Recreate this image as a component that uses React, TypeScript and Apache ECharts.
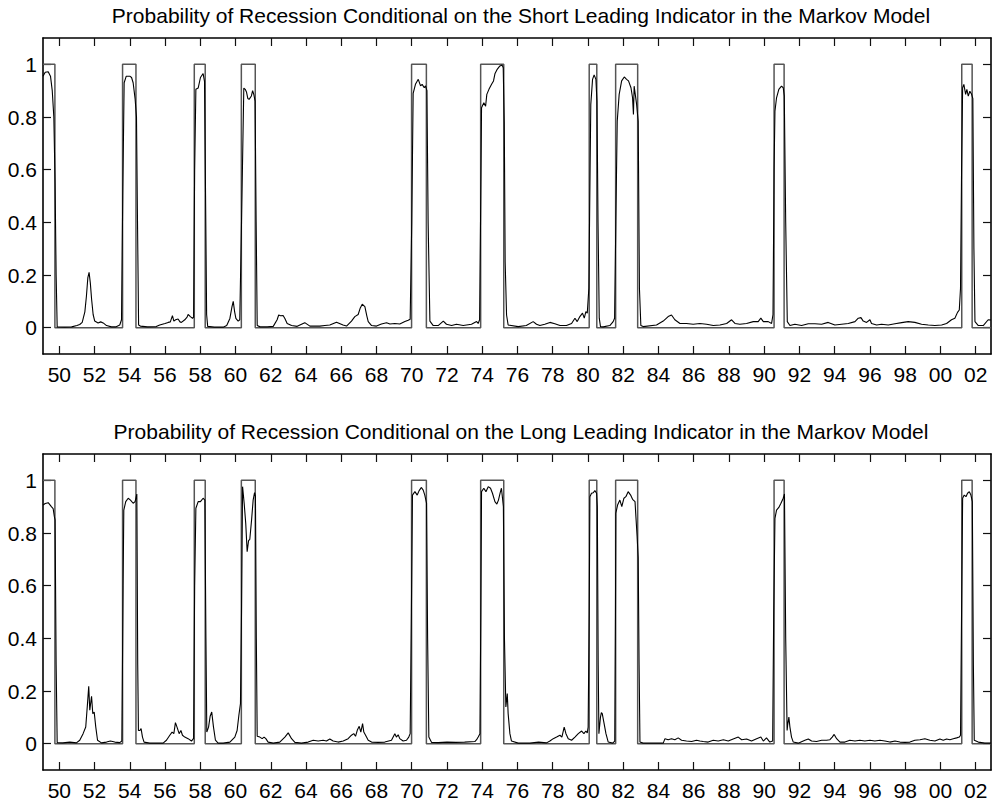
import React, { useEffect, useRef } from "react";
import * as echarts from "echarts";

const X_MIN = 1949.075;
const X_MAX = 2002.87;
const Y_MIN = -0.1;
const Y_MAX = 1.1;

const tickYears = [1950, 1952, 1954, 1956, 1958, 1960, 1962, 1964, 1966, 1968, 1970, 1972, 1974, 1976, 1978, 1980, 1982, 1984, 1986, 1988, 1990, 1992, 1994, 1996, 1998, 2000, 2002];
const yTicks = [0, 0.2, 0.4, 0.6, 0.8, 1];

const panelTitles = [
  "Probability of Recession Conditional on the Short Leading Indicator in the Markov Model",
  "Probability of Recession Conditional on the Long Leading Indicator in the Markov Model",
];

const recessionStarts = [1949.075, 1953.59, 1957.66, 1960.33, 1969.99, 1973.91, 1980.07, 1981.57, 1990.56, 2001.21];
const recessionEnds = [1949.75, 1954.35, 1958.28, 1961.12, 1970.83, 1975.22, 1980.5, 1982.82, 1991.13, 2001.8];

const shortProb: [number, number][] = [
  [1949.075, 0.955], [1949.2, 0.97], [1949.37, 0.972], [1949.5, 0.955], [1949.6, 0.9], [1949.69, 0.8], [1949.76, 0.55], [1949.82, 0.2], [1949.88, 0.003],
  [1950.3, 0.002], [1950.7, 0.003], [1951.0, 0.008], [1951.16, 0.012], [1951.3, 0.02], [1951.45, 0.06], [1951.54, 0.12], [1951.62, 0.19], [1951.69, 0.21],
  [1951.76, 0.17], [1951.83, 0.11], [1951.92, 0.05], [1952.01, 0.025], [1952.2, 0.018], [1952.35, 0.022], [1952.49, 0.018], [1952.68, 0.008], [1952.96, 0.003],
  [1953.2, 0.003], [1953.43, 0.01], [1953.53, 0.03], [1953.6, 0.5], [1953.68, 0.93], [1953.8, 0.955], [1954.0, 0.955], [1954.1, 0.95], [1954.19, 0.93],
  [1954.3, 0.87], [1954.38, 0.8], [1954.43, 0.45], [1954.5, 0.01], [1954.6, 0.006], [1955.0, 0.003], [1955.5, 0.004], [1955.7, 0.01], [1956.0, 0.016],
  [1956.18, 0.02], [1956.3, 0.022], [1956.42, 0.046], [1956.5, 0.025], [1956.6, 0.03], [1956.74, 0.033], [1956.85, 0.022], [1956.93, 0.02], [1957.12, 0.03],
  [1957.25, 0.04], [1957.31, 0.05], [1957.44, 0.042], [1957.56, 0.035], [1957.62, 0.04], [1957.68, 0.6], [1957.75, 0.905], [1957.88, 0.91], [1958.01, 0.95],
  [1958.16, 0.965], [1958.24, 0.935], [1958.3, 0.5], [1958.36, 0.05], [1958.42, 0.005], [1958.8, 0.002], [1959.3, 0.002], [1959.5, 0.008], [1959.68, 0.035],
  [1959.8, 0.08], [1959.87, 0.1], [1959.95, 0.06], [1960.02, 0.035], [1960.15, 0.025], [1960.24, 0.03], [1960.34, 0.4], [1960.47, 0.91], [1960.55, 0.905],
  [1960.62, 0.895], [1960.7, 0.87], [1960.77, 0.867], [1960.9, 0.88], [1960.97, 0.9], [1961.04, 0.885], [1961.11, 0.86], [1961.17, 0.4], [1961.23, 0.008],
  [1961.4, 0.003], [1961.8, 0.003], [1962.14, 0.005], [1962.36, 0.03], [1962.45, 0.048], [1962.55, 0.045], [1962.7, 0.046], [1962.8, 0.035], [1962.93, 0.016],
  [1963.18, 0.008], [1963.5, 0.005], [1963.93, 0.019], [1964.22, 0.006], [1964.78, 0.006], [1965.07, 0.008], [1965.35, 0.01], [1965.73, 0.021], [1966.1, 0.01],
  [1966.3, 0.006], [1966.58, 0.025], [1966.77, 0.042], [1966.96, 0.05], [1967.08, 0.075], [1967.19, 0.089], [1967.34, 0.08], [1967.45, 0.045], [1967.53, 0.023],
  [1967.72, 0.008], [1968.0, 0.006], [1968.28, 0.014], [1968.57, 0.019], [1968.76, 0.014], [1969.04, 0.016], [1969.32, 0.014], [1969.61, 0.023], [1969.8, 0.028],
  [1969.91, 0.032], [1970.0, 0.4], [1970.08, 0.89], [1970.21, 0.924], [1970.37, 0.943], [1970.5, 0.918], [1970.59, 0.924], [1970.71, 0.911], [1970.78, 0.918],
  [1970.86, 0.9], [1970.93, 0.4], [1971.03, 0.025], [1971.22, 0.008], [1971.5, 0.008], [1971.79, 0.025], [1971.97, 0.013], [1972.26, 0.008], [1972.54, 0.013],
  [1972.92, 0.008], [1973.39, 0.013], [1973.68, 0.023], [1973.77, 0.016], [1973.85, 0.03], [1973.93, 0.6], [1973.96, 0.835], [1974.09, 0.854], [1974.19, 0.841],
  [1974.26, 0.886], [1974.38, 0.905], [1974.53, 0.924], [1974.64, 0.937], [1974.72, 0.964], [1974.85, 0.981], [1975.0, 0.994], [1975.13, 0.997], [1975.19, 0.987],
  [1975.25, 0.78], [1975.3, 0.25], [1975.38, 0.048], [1975.47, 0.01], [1976.04, 0.004], [1976.5, 0.008], [1976.89, 0.023], [1977.08, 0.013], [1977.27, 0.008],
  [1977.55, 0.013], [1977.84, 0.02], [1978.12, 0.015], [1978.41, 0.008], [1978.78, 0.008], [1979.07, 0.016], [1979.26, 0.036], [1979.39, 0.023], [1979.54, 0.042],
  [1979.69, 0.055], [1979.79, 0.036], [1979.88, 0.061], [1979.96, 0.055], [1980.05, 0.15], [1980.12, 0.6], [1980.16, 0.848], [1980.26, 0.943], [1980.35, 0.96],
  [1980.45, 0.943], [1980.51, 0.86], [1980.57, 0.4], [1980.64, 0.036], [1980.71, 0.004], [1980.86, 0.003], [1981.24, 0.008], [1981.43, 0.023], [1981.51, 0.036],
  [1981.58, 0.4], [1981.66, 0.784], [1981.77, 0.886], [1981.91, 0.937], [1982.06, 0.952], [1982.19, 0.943], [1982.3, 0.937], [1982.44, 0.911], [1982.53, 0.873],
  [1982.58, 0.81], [1982.62, 0.917], [1982.66, 0.917], [1982.76, 0.848], [1982.85, 0.784], [1982.92, 0.15], [1983.0, 0.008], [1983.13, 0.004], [1983.89, 0.01],
  [1984.27, 0.025], [1984.55, 0.042], [1984.74, 0.048], [1984.93, 0.03], [1985.22, 0.016], [1985.59, 0.016], [1985.97, 0.013], [1986.35, 0.016], [1986.73, 0.013],
  [1987.11, 0.008], [1987.49, 0.01], [1987.87, 0.016], [1988.15, 0.03], [1988.34, 0.016], [1988.62, 0.013], [1989.0, 0.016], [1989.38, 0.023], [1989.66, 0.023],
  [1989.81, 0.036], [1989.95, 0.023], [1990.23, 0.023], [1990.42, 0.016], [1990.5, 0.05], [1990.56, 0.6], [1990.61, 0.822], [1990.7, 0.873], [1990.83, 0.905],
  [1990.98, 0.917], [1991.08, 0.911], [1991.14, 0.88], [1991.22, 0.4], [1991.31, 0.023], [1991.46, 0.008], [1991.74, 0.013], [1992.12, 0.008], [1992.5, 0.015],
  [1992.88, 0.015], [1993.26, 0.013], [1993.63, 0.02], [1994.01, 0.01], [1994.39, 0.013], [1994.77, 0.016], [1995.15, 0.023], [1995.34, 0.036], [1995.49, 0.038],
  [1995.62, 0.025], [1995.81, 0.02], [1996.0, 0.03], [1996.09, 0.016], [1996.38, 0.01], [1996.66, 0.013], [1997.04, 0.01], [1997.42, 0.015], [1997.8, 0.019],
  [1998.17, 0.023], [1998.55, 0.02], [1998.93, 0.013], [1999.31, 0.01], [1999.69, 0.008], [2000.07, 0.01], [2000.35, 0.016], [2000.63, 0.03], [2000.82, 0.036],
  [2000.97, 0.058], [2001.07, 0.067], [2001.14, 0.15], [2001.2, 0.6], [2001.26, 0.911], [2001.33, 0.924], [2001.43, 0.886], [2001.5, 0.905], [2001.58, 0.879],
  [2001.67, 0.898], [2001.77, 0.886], [2001.84, 0.87], [2001.9, 0.3], [2001.96, 0.023], [2002.15, 0.008], [2002.43, 0.008], [2002.71, 0.03], [2002.87, 0.029],
];

const longProb: [number, number][] = [
  [1949.075, 0.906], [1949.2, 0.912], [1949.37, 0.915], [1949.55, 0.9], [1949.65, 0.893], [1949.72, 0.862], [1949.76, 0.85], [1949.82, 0.3], [1949.88, 0.004],
  [1950.2, 0.003], [1950.6, 0.006], [1950.97, 0.003], [1951.16, 0.013], [1951.35, 0.038], [1951.5, 0.063], [1951.6, 0.152], [1951.67, 0.218], [1951.73, 0.127],
  [1951.83, 0.18], [1951.9, 0.114], [1951.98, 0.12], [1952.07, 0.063], [1952.17, 0.013], [1952.39, 0.003], [1952.68, 0.006], [1952.9, 0.01], [1953.15, 0.006],
  [1953.43, 0.004], [1953.55, 0.01], [1953.62, 0.6], [1953.66, 0.887], [1953.77, 0.919], [1953.91, 0.932], [1954.04, 0.925], [1954.19, 0.913], [1954.3, 0.919],
  [1954.4, 0.948], [1954.45, 0.3], [1954.49, 0.05], [1954.57, 0.05], [1954.64, 0.057], [1954.72, 0.025], [1954.81, 0.006], [1955.13, 0.002], [1955.89, 0.002],
  [1956.08, 0.013], [1956.27, 0.032], [1956.4, 0.044], [1956.5, 0.038], [1956.59, 0.08], [1956.69, 0.061], [1956.8, 0.038], [1956.9, 0.05], [1956.99, 0.032],
  [1957.12, 0.025], [1957.31, 0.019], [1957.5, 0.01], [1957.62, 0.02], [1957.68, 0.6], [1957.75, 0.894], [1957.88, 0.919], [1958.01, 0.919], [1958.16, 0.932],
  [1958.26, 0.925], [1958.32, 0.4], [1958.37, 0.044], [1958.47, 0.063], [1958.56, 0.104], [1958.65, 0.12], [1958.75, 0.063], [1958.86, 0.013], [1959.01, 0.002],
  [1959.3, 0.002], [1959.68, 0.006], [1959.96, 0.025], [1960.09, 0.05], [1960.19, 0.108], [1960.28, 0.152], [1960.34, 0.5], [1960.4, 0.976], [1960.49, 0.913],
  [1960.58, 0.836], [1960.66, 0.729], [1960.74, 0.771], [1960.81, 0.776], [1960.91, 0.849], [1961.0, 0.925], [1961.08, 0.953], [1961.13, 0.94], [1961.18, 0.4],
  [1961.23, 0.028], [1961.38, 0.025], [1961.51, 0.019], [1961.62, 0.025], [1961.72, 0.019], [1961.85, 0.006], [1962.14, 0.002], [1962.51, 0.006], [1962.8, 0.025],
  [1962.99, 0.041], [1963.18, 0.019], [1963.37, 0.005], [1963.74, 0.002], [1964.12, 0.006], [1964.41, 0.013], [1964.69, 0.01], [1964.97, 0.013], [1965.16, 0.01],
  [1965.35, 0.018], [1965.54, 0.01], [1965.82, 0.006], [1966.11, 0.01], [1966.39, 0.019], [1966.58, 0.032], [1966.71, 0.038], [1966.81, 0.028], [1966.92, 0.053],
  [1967.02, 0.066], [1967.11, 0.044], [1967.21, 0.076], [1967.28, 0.044], [1967.38, 0.032], [1967.53, 0.013], [1967.72, 0.006], [1968.1, 0.005], [1968.47, 0.006],
  [1968.85, 0.013], [1969.04, 0.038], [1969.13, 0.025], [1969.23, 0.034], [1969.32, 0.019], [1969.51, 0.01], [1969.7, 0.013], [1969.83, 0.025], [1969.91, 0.038],
  [1969.98, 0.5], [1970.04, 0.944], [1970.18, 0.957], [1970.31, 0.944], [1970.42, 0.961], [1970.55, 0.973], [1970.65, 0.963], [1970.74, 0.944], [1970.84, 0.913],
  [1970.9, 0.4], [1970.97, 0.025], [1971.12, 0.005], [1971.5, 0.004], [1972.0, 0.006], [1972.5, 0.005], [1973.0, 0.006], [1973.58, 0.008], [1973.68, 0.015],
  [1973.77, 0.025], [1973.87, 0.038], [1973.92, 0.5], [1973.96, 0.957], [1974.09, 0.97], [1974.21, 0.957], [1974.34, 0.976], [1974.47, 0.97], [1974.58, 0.951],
  [1974.72, 0.919], [1974.83, 0.91], [1974.92, 0.925], [1975.02, 0.953], [1975.09, 0.97], [1975.2, 0.9], [1975.26, 0.4], [1975.34, 0.139], [1975.42, 0.19],
  [1975.47, 0.114], [1975.57, 0.038], [1975.66, 0.01], [1976.04, 0.002], [1976.7, 0.002], [1977.2, 0.006], [1977.65, 0.003], [1977.84, 0.01], [1978.03, 0.019],
  [1978.22, 0.025], [1978.41, 0.032], [1978.52, 0.025], [1978.65, 0.063], [1978.75, 0.038], [1978.88, 0.019], [1979.07, 0.013], [1979.26, 0.025], [1979.45, 0.038],
  [1979.64, 0.048], [1979.77, 0.038], [1979.88, 0.048], [1979.96, 0.041], [1980.01, 0.063], [1980.07, 0.5], [1980.11, 0.938], [1980.2, 0.951], [1980.3, 0.953],
  [1980.39, 0.961], [1980.49, 0.951], [1980.53, 0.9], [1980.58, 0.3], [1980.62, 0.038], [1980.71, 0.101], [1980.76, 0.118], [1980.81, 0.114], [1980.9, 0.082],
  [1981.02, 0.038], [1981.15, 0.006], [1981.4, 0.002], [1981.52, 0.01], [1981.56, 0.5], [1981.58, 0.875], [1981.68, 0.906], [1981.81, 0.925], [1981.92, 0.9],
  [1982.04, 0.932], [1982.15, 0.938], [1982.28, 0.957], [1982.42, 0.944], [1982.53, 0.928], [1982.67, 0.919], [1982.72, 0.862], [1982.79, 0.786], [1982.85, 0.707],
  [1982.9, 0.3], [1982.95, 0.006], [1983.13, 0.002], [1984.27, 0.002], [1984.37, 0.019], [1984.55, 0.015], [1984.74, 0.019], [1984.93, 0.015], [1985.12, 0.022],
  [1985.31, 0.013], [1985.59, 0.01], [1985.88, 0.008], [1986.16, 0.013], [1986.35, 0.01], [1986.54, 0.008], [1986.82, 0.006], [1987.11, 0.013], [1987.39, 0.01],
  [1987.68, 0.015], [1987.96, 0.01], [1988.24, 0.018], [1988.53, 0.025], [1988.72, 0.015], [1989.0, 0.018], [1989.28, 0.01], [1989.57, 0.019], [1989.81, 0.025],
  [1989.95, 0.01], [1990.13, 0.022], [1990.32, 0.006], [1990.48, 0.01], [1990.54, 0.5], [1990.61, 0.855], [1990.7, 0.887], [1990.83, 0.897], [1990.95, 0.913],
  [1991.08, 0.932], [1991.15, 0.948], [1991.22, 0.4], [1991.3, 0.05], [1991.33, 0.07], [1991.4, 0.101], [1991.46, 0.063], [1991.55, 0.025], [1991.65, 0.006],
  [1991.93, 0.002], [1992.31, 0.013], [1992.5, 0.018], [1992.69, 0.01], [1992.97, 0.008], [1993.26, 0.013], [1993.54, 0.013], [1993.73, 0.015], [1993.86, 0.025],
  [1993.97, 0.035], [1994.11, 0.019], [1994.3, 0.006], [1994.58, 0.006], [1994.86, 0.013], [1995.15, 0.01], [1995.43, 0.013], [1995.71, 0.01], [1996.0, 0.013],
  [1996.28, 0.01], [1996.57, 0.013], [1996.85, 0.01], [1997.13, 0.006], [1997.42, 0.01], [1997.7, 0.006], [1997.98, 0.005], [1998.27, 0.006], [1998.55, 0.013],
  [1998.84, 0.015], [1999.12, 0.019], [1999.4, 0.013], [1999.69, 0.01], [1999.97, 0.018], [2000.16, 0.013], [2000.35, 0.018], [2000.54, 0.015], [2000.73, 0.019],
  [2000.92, 0.022], [2001.07, 0.025], [2001.14, 0.032], [2001.2, 0.5], [2001.26, 0.932], [2001.35, 0.944], [2001.45, 0.938], [2001.54, 0.951], [2001.64, 0.957],
  [2001.73, 0.944], [2001.81, 0.919], [2001.87, 0.3], [2001.92, 0.013], [2002.15, 0.006], [2002.52, 0.002], [2002.87, 0.002],
];

const FONT = "'Liberation Sans', Arial, Helvetica, sans-serif";

function buildIndicator(): [number, number][] {
  const pts: [number, number][] = [];
  if (recessionStarts[0] > X_MIN) pts.push([X_MIN, 0]);
  for (let i = 0; i < recessionStarts.length; i++) {
    const s = Math.max(recessionStarts[i], X_MIN);
    const e = recessionEnds[i];
    if (s <= X_MIN) {
      pts.push([X_MIN, 1]);
    } else {
      pts.push([s, 0]);
      pts.push([s, 1]);
    }
    pts.push([e, 1]);
    pts.push([e, 0]);
  }
  pts.push([X_MAX, 0]);
  return pts;
}

const GRID_TOPS = [38, 454];
const GRID_LEFT = 43;
const GRID_WIDTH = 948;
const GRID_HEIGHT = 316;

export default function App() {
  const ref = useRef<HTMLDivElement>(null);
  useEffect(() => {
    if (!ref.current) return;
    const chart = echarts.init(ref.current, undefined, { renderer: "svg" });
    const indicator = buildIndicator();
    const probs = [shortProb, longProb];

    const axisLine = { show: true, onZero: false, lineStyle: { color: "#000", width: 1.6 } };
    const tickStyle = { color: "#111", width: 1.2 };

    const grids: any[] = [];
    const xAxes: any[] = [];
    const yAxes: any[] = [];
    const series: any[] = [];
    const graphics: any[] = [];
    const titleY = [15, 431];

    [0, 1].forEach((p) => {
      grids.push({ left: GRID_LEFT, top: GRID_TOPS[p], width: GRID_WIDTH, height: GRID_HEIGHT, containLabel: false });
      xAxes.push({
        gridIndex: p, type: "value", position: "bottom", min: X_MIN, max: X_MAX,
        axisLine, splitLine: { show: false },
        axisTick: { show: true, inside: true, length: 8, customValues: tickYears, lineStyle: tickStyle },
        axisLabel: {
          show: true, customValues: tickYears, margin: 10, fontSize: 21, fontFamily: FONT, color: "#000",
          formatter: (v: number) => String(Math.round(v) % 100).padStart(2, "0"),
        },
      });
      xAxes.push({
        gridIndex: p, type: "value", position: "top", min: X_MIN, max: X_MAX,
        axisLine, splitLine: { show: false },
        axisTick: { show: true, inside: true, length: 8, customValues: tickYears, lineStyle: tickStyle },
        axisLabel: { show: false },
      });
      yAxes.push({
        gridIndex: p, type: "value", position: "left", min: Y_MIN, max: Y_MAX,
        axisLine, splitLine: { show: false },
        axisTick: { show: true, inside: true, length: 8, customValues: yTicks, lineStyle: tickStyle },
        axisLabel: {
          show: true, customValues: yTicks, margin: 6, fontSize: 21, fontFamily: FONT, color: "#000",
          formatter: (v: number) => String(Math.round(v * 10) / 10),
        },
      });
      yAxes.push({
        gridIndex: p, type: "value", position: "right", min: Y_MIN, max: Y_MAX,
        axisLine, splitLine: { show: false },
        axisTick: { show: true, inside: true, length: 8, customValues: yTicks, lineStyle: tickStyle },
        axisLabel: { show: false },
      });
      series.push({
        type: "line", name: "Recession", xAxisIndex: p * 2, yAxisIndex: p * 2, data: indicator,
        symbol: "none", showSymbol: false, silent: true,
        lineStyle: { color: "#555", width: 1.5 }, z: 2,
      });
      series.push({
        type: "line", name: "Probability", xAxisIndex: p * 2, yAxisIndex: p * 2, data: probs[p],
        symbol: "none", showSymbol: false, silent: true,
        lineStyle: { color: "#000", width: 1.1 }, z: 3,
      });
      graphics.push({
        type: "text", x: 521, y: titleY[p],
        style: {
          text: panelTitles[p], fontSize: 21, fontFamily: FONT, fill: "#000",
          align: "center", verticalAlign: "middle", textAlign: "center", textVerticalAlign: "middle",
        },
      });
    });

    chart.setOption({
      animation: false,
      backgroundColor: "#fff",
      grid: grids,
      xAxis: xAxes,
      yAxis: yAxes,
      series,
      graphic: graphics,
    });
    return () => chart.dispose();
  }, []);

  return (
    <div
      ref={ref}
      style={{ position: "absolute", left: 0, top: 0, width: 993, height: 801, background: "#fff" }}
    />
  );
}
